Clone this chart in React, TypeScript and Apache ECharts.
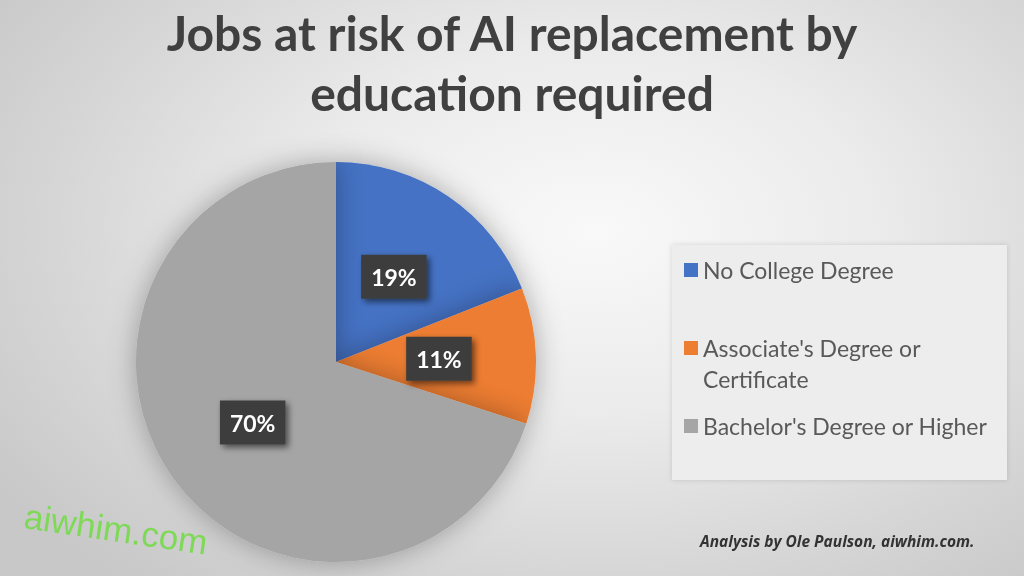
import * as echarts from 'echarts';
import { useEffect, useRef } from 'react';

const titleLines = ['Jobs at risk of AI replacement by', 'education required'];
const categories = ['No College Degree', "Associate's Degree or", "Bachelor's Degree or Higher"];
const values = [19, 11, 70];
const colors = ['#4472c4', '#ed7d31', '#a5a5a5'];
const legendCenters = [270, 348, 426];
const legendSecondLine = 'Certificate';
const watermark = 'aiwhim.com';
const credit = 'Analysis by Ole Paulson, aiwhim.com.';

export default function App() {
  const elRef = useRef<HTMLDivElement | null>(null);

  useEffect(() => {
    if (!elRef.current) return;
    const chart = echarts.init(elRef.current, undefined, { renderer: 'svg' });

    const legendText = {
      fontFamily: 'Lato',
      fontSize: 23,
      color: '#595959',
      lineHeight: 24
    };

    chart.setOption({
      animation: false,
      backgroundColor: 'transparent',
      title: {
        text: titleLines.join('\n'),
        left: 'center',
        top: 2,
        padding: 0,
        textStyle: {
          fontFamily: 'Lato',
          fontWeight: 'bold',
          fontSize: 48,
          lineHeight: 60,
          color: '#404040'
        }
      },
      legend: categories.map((name, i) => ({
        data: [name],
        orient: 'vertical',
        left: 684,
        top: legendCenters[i] - 12,
        padding: 0,
        icon: 'rect',
        itemWidth: 14,
        itemHeight: 14,
        selectedMode: false,
        textStyle: legendText,
        z: 5
      })),
      graphic: [
        {
          type: 'rect',
          shape: { x: 672, y: 245, width: 335, height: 235 },
          style: {
            fill: '#ededed',
            shadowBlur: 5,
            shadowColor: 'rgba(0,0,0,0.14)'
          },
          z: 0
        },
        {
          type: 'text',
          x: 703,
          y: 379,
          style: {
            text: legendSecondLine,
            fontFamily: 'Lato',
            fontSize: 23,
            fill: '#595959',
            verticalAlign: 'middle'
          },
          z: 5
        },
        {
          type: 'text',
          x: 22,
          y: 533,
          rotation: -0.145,
          style: {
            text: watermark,
            fontFamily: 'Liberation Sans',
            fontSize: 35,
            fill: '#7ed957',
            verticalAlign: 'bottom'
          },
          z: 10
        },
        {
          type: 'text',
          x: 700,
          y: 541,
          style: {
            text: credit,
            fontFamily: 'Open Sans',
            fontStyle: 'italic',
            fontWeight: 'bold',
            fontSize: 15.5,
            fill: '#333333',
            verticalAlign: 'middle'
          },
          z: 5
        }
      ],
      series: [
        {
          type: 'pie',
          center: [336, 362],
          radius: 200,
          startAngle: 90,
          clockwise: true,
          label: {
            show: true,
            position: 'inside',
            formatter: '{c}%',
            color: '#ffffff',
            fontFamily: 'Lato',
            fontWeight: 'bold',
            fontSize: 23,
            lineHeight: 22,
            backgroundColor: '#3d3d3d',
            padding: [11, 10],
            shadowColor: 'rgba(0,0,0,0.55)',
            shadowBlur: 6,
            shadowOffsetX: 3,
            shadowOffsetY: 3
          },
          labelLine: { show: false },
          itemStyle: {
            shadowBlur: 28,
            shadowColor: 'rgba(0,0,0,0.3)'
          },
          emphasis: { disabled: true },
          data: categories.map((name, i) => ({
            name,
            value: values[i],
            itemStyle: { color: colors[i] }
          }))
        }
      ]
    });

    return () => chart.dispose();
  }, []);

  return (
    <div
      style={{
        position: 'fixed',
        left: 0,
        top: 0,
        width: 1024,
        height: 576,
        background:
          'radial-gradient(ellipse 70% 80% at 58% 40%, #f9f9f9 0%, #ebebeb 40%, #d6d6d6 75%, #c8c8c8 100%)'
      }}
    >
      <div ref={elRef} style={{ width: 1024, height: 576 }} />
    </div>
  );
}
